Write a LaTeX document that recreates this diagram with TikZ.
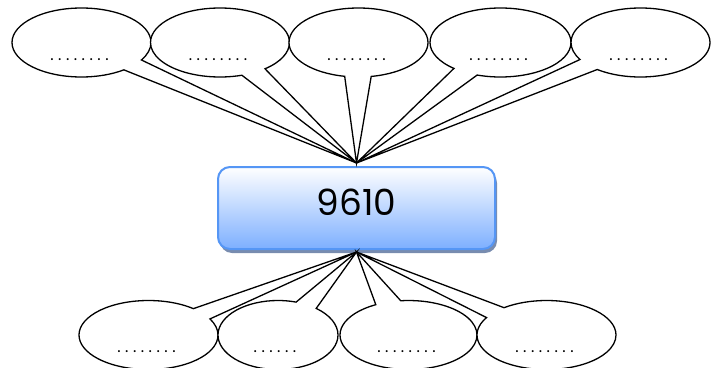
\documentclass[tikz,border=0pt]{standalone}
\usepackage{fontspec}
\usepackage{tikz}
\usetikzlibrary{shapes.callouts,shadows}
\newfontfamily\numfont{Poppins}
\newfontfamily\dotfont[LetterSpace=28]{Poppins}
\definecolor{boxline}{RGB}{85,150,245}
\definecolor{boxfill}{RGB}{125,175,255}
\definecolor{boxshadow}{RGB}{120,140,175}

\tikzset{
    bubble/.style={ellipse callout, draw, fill=white, line width=1.3pt,
        minimum width=139pt, minimum height=69pt, inner sep=0pt, callout pointer arc=22},
    blank/.style={font=\dotfont\fontsize{16}{16}\selectfont, inner sep=0pt}
}

\begin{document}
\begin{tikzpicture}[x=1pt,y=-1pt]
    \useasboundingbox (0,0) rectangle (723,367);

    \node[draw=boxline, line width=2pt, rounded corners=12pt, top color=white, bottom color=boxfill,
        minimum width=277pt, minimum height=82pt, inner sep=0pt, text depth=12pt,
        font=\numfont\fontsize{36}{36}\selectfont,
        drop shadow={shadow xshift=2pt, shadow yshift=-4pt, fill=boxshadow, opacity=1}] (num) at (356.5,208) {9610};
    \coordinate (up) at ([yshift=3pt]num.north);
    \coordinate (down) at ([yshift=-2pt]num.south);

    % top row
    \node[bubble, callout absolute pointer={(up)}] (t1) at (81.5,42.5) {};
    \node[bubble, callout absolute pointer={(up)}] (t2) at (220,42.5) {};
    \node[bubble, callout absolute pointer={(up)}] (t3) at (358.5,42.5) {};
    \node[bubble, callout absolute pointer={(up)}, minimum width=141pt] (t4) at (500.5,42.5) {};
    \node[bubble, callout absolute pointer={(up)}] (t5) at (640.5,42.5) {};

    % bottom row
    \node[bubble, callout absolute pointer={(down)}] (b1) at (148.5,335) {};
    \node[bubble, callout absolute pointer={(down)}, minimum width=120pt] (b2) at (278,335) {};
    \node[bubble, callout absolute pointer={(down)}, minimum width=137pt] (b3) at (408.5,335) {};
    \node[bubble, callout absolute pointer={(down)}] (b4) at (546.5,335) {};

    \node[blank] (t1txt) at ([xshift=-2pt,yshift=-17pt]t1.center) {........};
    \node[blank] (t2txt) at ([xshift=-2pt,yshift=-17pt]t2.center) {........};
    \node[blank] (t3txt) at ([xshift=-2pt,yshift=-17pt]t3.center) {........};
    \node[blank] (t4txt) at ([xshift=-2pt,yshift=-17pt]t4.center) {........};
    \node[blank] (t5txt) at ([xshift=-2pt,yshift=-17pt]t5.center) {........};
    \node[blank] (b1txt) at ([xshift=-2pt,yshift=-17pt]b1.center) {........};
    \node[blank] (b2txt) at ([xshift=-3pt,yshift=-17pt]b2.center) {......};
    \node[blank] (b3txt) at ([xshift=-2pt,yshift=-17pt]b3.center) {........};
    \node[blank] (b4txt) at ([xshift=-2pt,yshift=-17pt]b4.center) {........};
\end{tikzpicture}
\end{document}
